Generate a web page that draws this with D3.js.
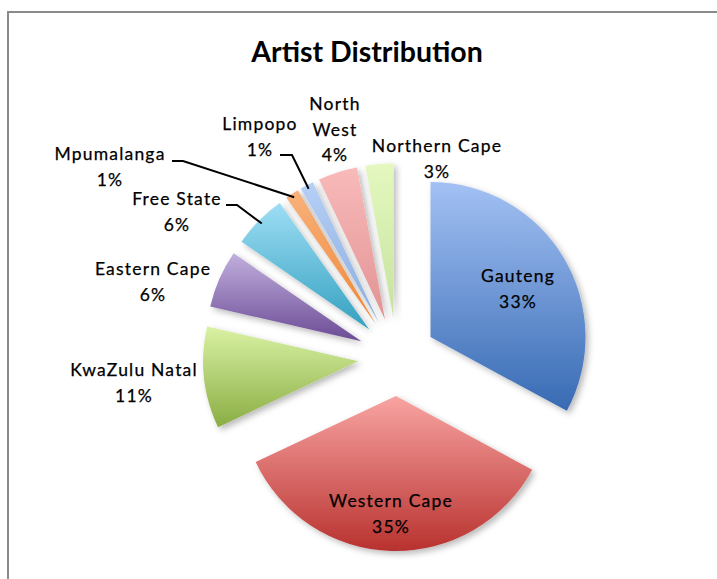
<!DOCTYPE html>
<html>
<head>
<meta charset="utf-8">
<script src="https://cdn.jsdelivr.net/npm/d3@7/dist/d3.min.js"></script>
<style>
  html, body { margin: 0; padding: 0; background: #fff; }
  svg { display: block; }
  text { font-family: Lato, "Open Sans", sans-serif; fill: #000; }
</style>
</head>
<body>
<svg id="chart" width="717" height="579"></svg>
<script>
// Share of artists by province (percent), clockwise from 12 o'clock
const provinces = ["Gauteng", "Western Cape", "KwaZulu Natal", "Eastern Cape", "Free State",
                   "Mpumalanga", "Limpopo", "North West", "Northern Cape"];
const shares = [32.9, 35.1, 10.6, 6.0, 5.6, 1.4, 1.4, 4.1, 2.9];
const labelLines = [["Gauteng", "33%"], ["Western Cape", "35%"], ["KwaZulu Natal", "11%"],
                    ["Eastern Cape", "6%"], ["Free State", "6%"], ["Mpumalanga", "1%"],
                    ["Limpopo", "1%"], ["North", "West", "4%"], ["Northern Cape", "3%"]];

// Gradient stops (top, bottom) for each slice
const fillTop    = ["#a3c1f4", "#f8a4a2", "#d9f2a4", "#c1afdd", "#9edef5", "#f9b27c", "#b6cff6", "#f9baba", "#e4f8bf"];
const fillBottom = ["#376ab3", "#b8322f", "#8aad43", "#6b4b95", "#33a0bf", "#ee8736", "#8aaddf", "#e29393", "#c6e29e"];

// Layout
const cx = 397, cy = 357, radius = 155, explode = 39, lineGap = 25.5;
// label anchor: centre x, baseline of first line
const labelPos = [[518, 282], [391, 507], [134, 376], [153, 275], [177, 205],
                  [110, 160], [260, 130], [335, 110], [437, 152]];
// leader lines: [start, elbow] — the line then runs to the slice's outer edge
const leaders = { 4: [[226, 205], [237, 205]], 5: [[172, 161], [183, 161]], 6: [[280, 155], [292, 155]] };

const svg = d3.select("#chart");
const defs = svg.append("defs");

const shadow = defs.append("filter").attr("id", "shadow")
  .attr("x", "-20%").attr("y", "-20%").attr("width", "150%").attr("height", "150%");
shadow.append("feDropShadow").attr("dx", 3).attr("dy", 3).attr("stdDeviation", 3)
  .attr("flood-color", "#000").attr("flood-opacity", 0.28);

provinces.forEach((p, i) => {
  const g = defs.append("linearGradient").attr("id", "grad" + i)
    .attr("x1", 0).attr("y1", 0).attr("x2", 0).attr("y2", 1);
  g.append("stop").attr("offset", "0%").attr("stop-color", fillTop[i]);
  g.append("stop").attr("offset", "100%").attr("stop-color", fillBottom[i]);
});

// Chart frame (top and left edges visible)
svg.append("path")
  .attr("d", `M8,579 L8,12 L717,12`)
  .attr("fill", "none").attr("stroke", "#8a8a8a").attr("stroke-width", 2);

// Title
svg.append("text")
  .attr("x", 367).attr("y", 62)
  .attr("text-anchor", "middle")
  .attr("font-size", 28.5).attr("font-weight", "bold")
  .text("Artist Distribution");

const pie = d3.pie().sort(null).value(d => d)(shares);
const arc = d3.arc().innerRadius(0).outerRadius(radius);

const offset = d => {
  const a = (d.startAngle + d.endAngle) / 2;
  return [Math.sin(a) * explode, -Math.cos(a) * explode];
};

const slices = svg.append("g").attr("transform", `translate(${cx},${cy})`);
slices.selectAll("path")
  .data(pie)
  .join("path")
  .attr("transform", d => `translate(${offset(d)})`)
  .attr("d", arc)
  .attr("fill", (d, i) => `url(#grad${i})`)
  .attr("filter", "url(#shadow)");

// Leader lines
Object.entries(leaders).forEach(([k, pts]) => {
  const d = pie[+k];
  const a = (d.startAngle + d.endAngle) / 2;
  const [ox, oy] = offset(d);
  const end = [cx + ox + Math.sin(a) * (radius - 4), cy + oy - Math.cos(a) * (radius - 4)];
  svg.append("path")
    .attr("d", d3.line()([pts[0], pts[1], end]))
    .attr("fill", "none").attr("stroke", "#000").attr("stroke-width", 2);
});

// Data labels
const labels = svg.append("g");
labelLines.forEach((lines, i) => {
  const t = labels.append("text")
    .attr("text-anchor", "middle")
    .attr("font-size", 17.5)
    .attr("letter-spacing", 1.2)
    .attr("stroke", "#000").attr("stroke-width", 0.25);
  lines.forEach((s, j) => {
    t.append("tspan").attr("x", labelPos[i][0]).attr("y", labelPos[i][1] + j * lineGap).text(s);
  });
});
</script>
</body>
</html>
